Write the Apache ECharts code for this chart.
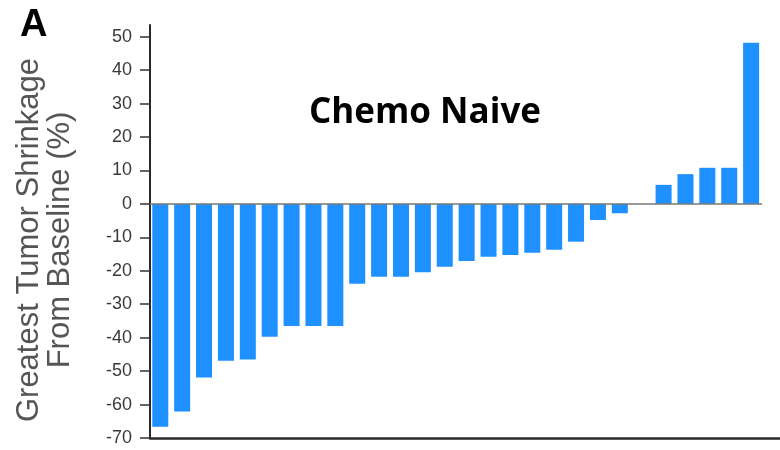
<!DOCTYPE html>
<html>
<head>
<meta charset="utf-8">
<script src="https://cdn.jsdelivr.net/npm/echarts@6/dist/echarts.min.js"></script>
<style>html,body{margin:0;padding:0;background:#fff;}#c{width:780px;height:450px;}</style>
</head>
<body>
<div id="c"></div>
<script>
var patients = [1,2,3,4,5,6,7,8,9,10,11,12,13,14,15,16,17,18,19,20,21,22,23,24,25,26,27,28];
var shrinkage = [-66.6,-62.1,-51.9,-46.9,-46.5,-39.7,-36.5,-36.5,-36.5,-23.9,-21.8,-21.8,-20.4,-18.8,-17.1,-15.8,-15.3,-14.6,-13.7,-11.3,-4.8,-2.8,null,5.7,8.9,10.8,10.8,48.2];
var yTicks = [-70,-60,-50,-40,-30,-20,-10,0,10,20,30,40,50];

var chart = echarts.init(document.getElementById('c'));
var xMin = 0.53, xMax = 29.32;
chart.setOption({
  animation: false,
  backgroundColor: '#fff',
  title: [
    {text: 'Chemo Naive', left: 304, top: 91, textStyle: {fontFamily: 'Open Sans', fontWeight: 'bold', fontSize: 35, color: '#000'}},
    {text: 'A', left: 15, top: 2, textStyle: {fontFamily: 'Liberation Sans', fontWeight: 'bold', fontSize: 38, color: '#000'}}
  ],
  grid: {left: 150, right: 0, top: 25, bottom: 12, containLabel: false, outerBoundsMode: 'none'},
  xAxis: {
    type: 'value', min: xMin, max: xMax,
    axisLine: {show: true, onZero: false, lineStyle: {color: '#2a2a2a', width: 2.5}},
    axisTick: {show: false}, axisLabel: {show: false}, splitLine: {show: false}
  },
  yAxis: {
    type: 'value', min: -70, max: 53.5,
    name: 'Greatest Tumor Shrinkage\nFrom Baseline (%)',
    nameLocation: 'middle', nameGap: 74, nameRotate: 90,
    nameTextStyle: {fontFamily: 'Liberation Sans', fontSize: 31, lineHeight: 31, color: '#555', padding: [0, 17, 0, 0]},
    axisLine: {show: true, lineStyle: {color: '#2a2a2a', width: 2}},
    axisTick: {show: true, length: 10, customValues: yTicks, lineStyle: {color: '#333', width: 1.5}},
    axisLabel: {customValues: yTicks, margin: 18, fontFamily: 'Liberation Sans', fontSize: 18, color: '#3a3a3a'},
    splitLine: {show: false}
  },
  series: [{
    type: 'bar',
    barWidth: 16,
    itemStyle: {color: '#1E90FF'},
    data: patients.map(function (p, i) { return [p, shrinkage[i]]; }),
    markLine: {
      silent: true, symbol: 'none', label: {show: false},
      lineStyle: {color: '#777', width: 1.5, type: 'solid'},
      data: [[{coord: [xMin, 0]}, {coord: [patients.length + 0.5, 0]}]]
    }
  }]
});
</script>
</body>
</html>
